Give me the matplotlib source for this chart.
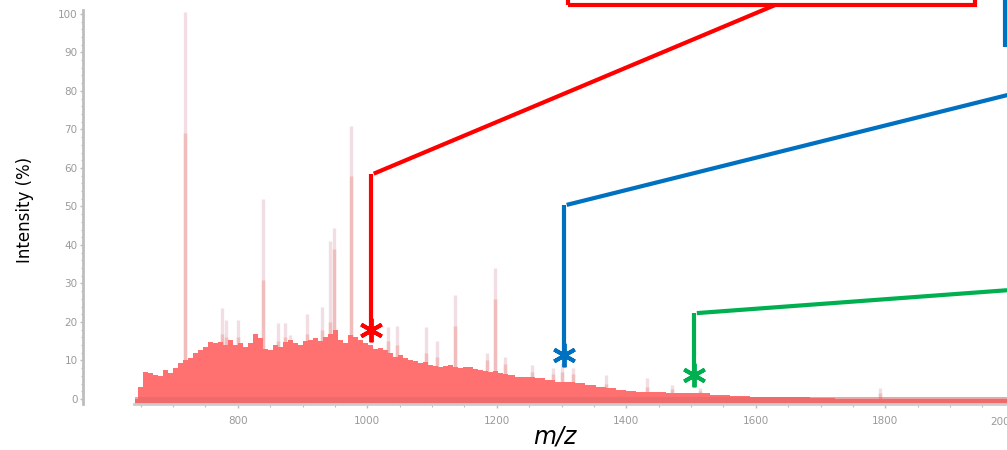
import matplotlib
matplotlib.use('Agg')
import matplotlib.pyplot as plt
from matplotlib.patches import Rectangle
from matplotlib.ticker import MultipleLocator, FixedLocator
import numpy as np

# salmon envelope of the spectrum (m/z, intensity %)
env_mz = [642, 649, 657, 665, 673, 680, 688, 696, 703, 711, 719, 727, 734, 742, 750,
          757, 765, 773, 781, 788, 796, 804, 812, 819, 827, 835, 843, 850, 858, 866,
          873, 881, 889, 896, 904, 912, 920, 928, 935, 943, 951, 958, 966, 974, 981,
          989, 997, 1005, 1012, 1020, 1028, 1035, 1043, 1051, 1059, 1066, 1074, 1082,
          1090, 1097, 1105, 1113, 1121, 1128, 1136, 1144, 1151, 1159, 1167, 1174, 1182,
          1190, 1198, 1205, 1213, 1221, 1236, 1251, 1267, 1283, 1298, 1314, 1329, 1345,
          1360, 1376, 1391, 1407, 1422, 1438, 1453, 1469, 1484, 1514, 1545, 1575, 1606,
          1637, 1669, 1700, 1746, 1800, 1900, 1990]
env_int = [0, 3, 7, 6.8, 6.2, 6, 7.5, 6.8, 8, 9.3, 10, 10.6, 12, 12.7, 13.5,
           14.8, 14.5, 14.8, 14, 15.3, 14, 14.5, 13.5, 14.5, 17, 15.8, 13, 12.7, 14, 13.5,
           14.8, 15.3, 14.5, 14, 15, 15.3, 15.8, 15, 16, 17, 18, 15.3, 14.5, 16.5, 16,
           15.3, 14.5, 14, 13, 13.3, 12.7, 12, 11, 11.5, 10.6, 10, 9.8, 9.3,
           9.5, 8.8, 8.6, 8.3, 8.5, 8.8, 8.3, 8, 8.2, 8.3, 7.8, 7.5, 7.3,
           7, 7.2, 6.8, 6.5, 6.3, 5.8, 5.6, 5.4, 5, 4.5, 4.3, 4.1, 3.6,
           3.2, 2.8, 2.4, 2.1, 1.9, 1.7, 1.8, 1.6, 1.5, 1.5, 1.1, 0.8, 0.6,
           0.5, 0.4, 0.3, 0.1, 0.1, 0.05, 0.05]

# single peaks: m/z, full height (light), height of darker lower part
peak_mz = [719, 776, 782, 800, 839, 862, 873, 881, 907, 930, 943, 949, 975, 1032,
           1046, 1090, 1108, 1135, 1185, 1198, 1213, 1255, 1287, 1301, 1318, 1368,
           1432, 1471, 1514, 1792]
peak_hi = [100.5, 23.6, 20.5, 20.5, 52, 19.7, 19.7, 16.5, 22, 24, 41, 44.4, 71, 18.7,
           19, 18.7, 15, 27, 12, 34, 11, 8.8, 8, 9.3, 8, 6.2,
           5.4, 3.6, 2.9, 2.8]
peak_lo = [69, 17, 16, 16, 31, 15, 16, 15, 17, 18, 20, 39, 58, 15,
           14, 12, 11, 19, 10, 26, 9, 7, 6.5, 7, 6.5, 4,
           3, 2.5, 2, 1.5]

x_ticks = [800, 1000, 1200, 1400, 1600, 1800]
x_edge_tick = 2000  # only partly inside the picture

# marked ions: m/z, intensity, height of the bend in the leader line
mark_mz = [1006, 1304, 1505]
mark_int = [17.9, 11.4, 6.2]
mark_bend = [58.5, 50.4, 22.3]
mark_colors = ['#ff0000', '#0070c0', '#00b050']
# where the leader lines leave the picture (m/z, intensity)
lead_end = [(1630, 102.3), (1993, 79.1), (1993, 28.3)]

tick_grey = '#9a9a9a'

fig = plt.figure(figsize=(10.07, 4.5), dpi=100)
ax = fig.add_axes([83 / 1007, 1 - 404 / 450, 924 / 1007, 394 / 450])

# light peaks first, then the salmon envelope, then darker lower parts on top
ax.vlines(peak_mz, 0, peak_hi, color='#f2dde2', linewidth=2.4, zorder=1)
ax.fill_between(env_mz, -1.3, env_int, step='mid', color='#ff7070', linewidth=0, zorder=2)
ax.vlines(peak_mz, 0, peak_lo, color='#f0bcbc', linewidth=2.4, zorder=1.5)
ax.fill_between([642, 1988], -1.3, 0.4, color='#e26868', linewidth=0, zorder=2.5, alpha=0.6)

# leader lines and stars
for i in range(len(mark_mz)):
    c = mark_colors[i]
    ax.plot([mark_mz[i], mark_mz[i]], [mark_int[i], mark_bend[i]], color=c, lw=3,
            zorder=5, clip_on=False, solid_capstyle='butt')
    ax.plot([mark_mz[i] + 4, lead_end[i][0]], [mark_bend[i], lead_end[i][1]], color=c,
            lw=3, zorder=5, clip_on=False, solid_capstyle='butt')
    ax.plot(mark_mz[i], mark_int[i], marker=(6, 2, 0), markersize=17, mew=2.8,
            color=c, zorder=6, clip_on=False)

# boxes of the legend, cut by the picture edge
ax.add_patch(Rectangle((1310, 102.3), 629, 40, fill=False, edgecolor='#ff0000', lw=3,
                       clip_on=False, zorder=5))
ax.plot([1985.5, 1985.5], [91.5, 110], color='#0070c0', lw=3, clip_on=False, zorder=5,
        solid_capstyle='butt')

# axes styling
for s in ['top', 'right']:
    ax.spines[s].set_visible(False)
ax.spines['left'].set_color('#bdbdbd')
ax.spines['left'].set_linewidth(2)
ax.spines['bottom'].set_color('#cccccc')
ax.spines['bottom'].set_linewidth(2)

ax.yaxis.set_major_locator(MultipleLocator(10))
ax.yaxis.set_minor_locator(MultipleLocator(2))
ax.set_xticks(x_ticks)
ax.xaxis.set_minor_locator(FixedLocator(list(range(650, 2000, 50))))
ax.tick_params(axis='y', which='major', length=2.5, width=1, color='#bdbdbd',
               labelsize=7.5, labelcolor=tick_grey, pad=1.5)
ax.tick_params(axis='y', which='minor', length=1.5, width=0.8, color='#bdbdbd')
ax.tick_params(axis='x', which='major', length=3, width=1, color='#bdbdbd',
               labelsize=7.5, labelcolor=tick_grey, pad=6)
ax.tick_params(axis='x', which='minor', length=2, width=0.8, color='#bdbdbd')

# limits after the ticks, so set_xticks does not widen the view
ax.set_xlim(561, 1988)
ax.set_ylim(-1.3, 101.0)
ax.spines['bottom'].set_bounds(640, 1988)

# the 2000 label sits on the right edge and is cut, as in the source
ax.text(1962, -4.6, str(x_edge_tick), fontsize=7.5, color=tick_grey,
        ha='left', va='top', clip_on=False)

fig.text(25 / 1007, 1 - 210 / 450, 'Intensity (%)', rotation=90, fontsize=12,
         ha='center', va='center')
fig.text(555 / 1007, 1 - 437 / 450, 'm/z', fontsize=17, style='italic',
         ha='center', va='center')

fig.savefig('out.png', dpi=100)
